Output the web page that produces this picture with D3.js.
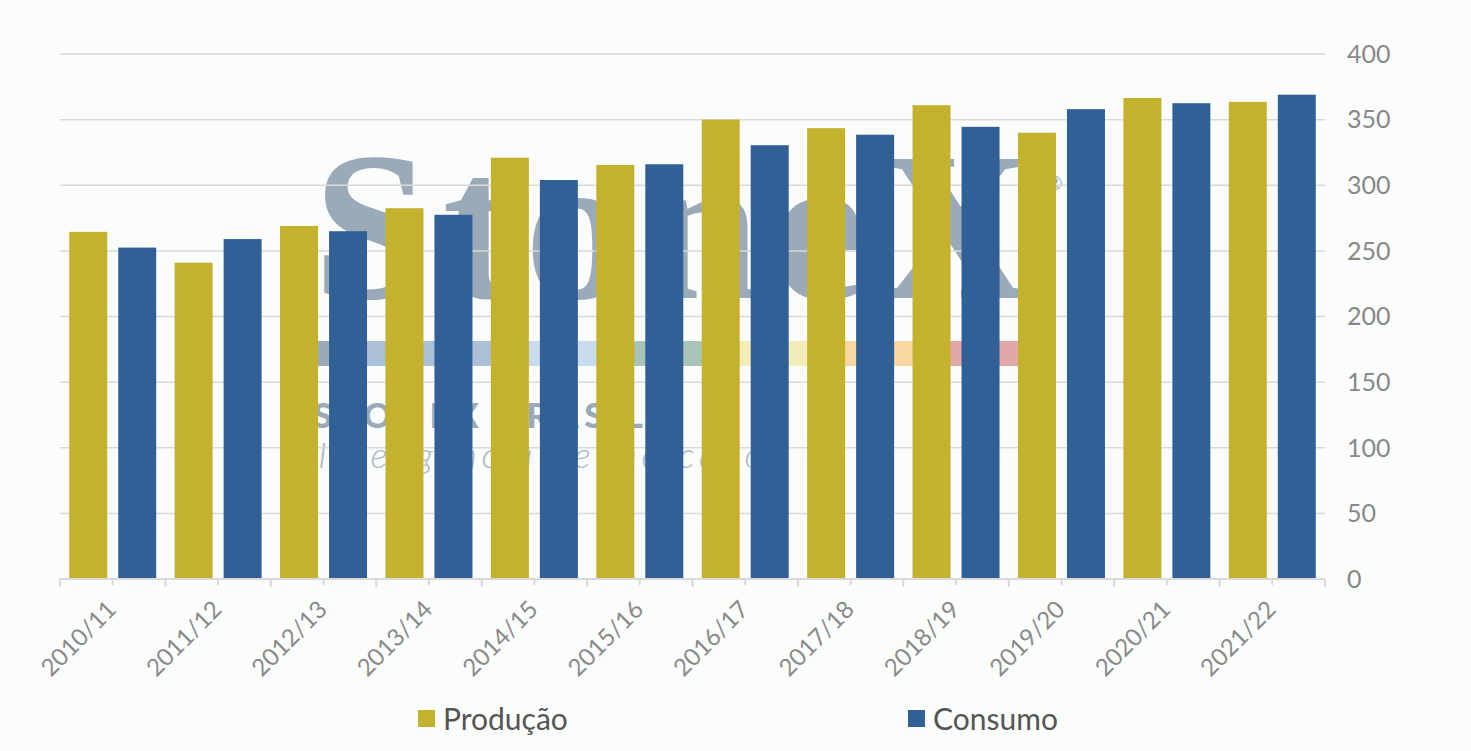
<!DOCTYPE html>
<html>
<head>
<meta charset="utf-8">
<script src="https://cdn.jsdelivr.net/npm/d3@7"></script>
<style>
    body { margin: 0; background: #fbfcfc; }
    svg { display: block; font-family: Lato, "Open Sans", sans-serif; }
</style>
</head>
<body>
<svg id="Chart"></svg>
<script>
let seasons = ["2010/11", "2011/12", "2012/13", "2013/14", "2014/15", "2015/16",
    "2016/17", "2017/18", "2018/19", "2019/20", "2020/21", "2021/22"];
let producao = [264.5, 241, 269, 282.5, 321, 315.5, 350, 343.5, 361, 340, 366.5, 363.5];
let consumo = [252.5, 259, 265, 277.5, 304, 316, 330.5, 338.5, 344.5, 358, 362.5, 369];
let yTicks = [0, 50, 100, 150, 200, 250, 300, 350, 400];
let seriesNames = ["Produção", "Consumo"];
let seriesColors = ["#c4b22e", "#316096"];
let stripeColors = ["#9aaab8", "#adbfd6", "#c8dced", "#a8c4b8", "#f4ecb8", "#f8d8a0", "#e0a8a8"];

function getConfig() {
    let width = 1471;
    let height = 751;
    let margin = { top: 54, bottom: 172, left: 60, right: 146 };
    let bodyWidth = width - margin.left - margin.right;
    let bodyHeight = height - margin.top - margin.bottom;
    let container = d3.select("#Chart")
        .attr("width", width)
        .attr("height", height);
    return { width, height, margin, bodyWidth, bodyHeight, container };
}

function getScales(config) {
    let { margin, bodyWidth, bodyHeight } = config;
    let xScale = d3.scaleBand()
        .domain(seasons)
        .range([margin.left, margin.left + bodyWidth]);
    let innerScale = d3.scaleBand()
        .domain(seriesNames)
        .range([0, xScale.bandwidth()])
        .paddingInner(0.2245)
        .paddingOuter(0.188);
    let yScale = d3.scaleLinear()
        .domain([0, 400])
        .range([margin.top + bodyHeight, margin.top]);
    return { xScale, innerScale, yScale };
}

// faded logo behind the plot
function drawWatermark(container) {
    let g = container.append("g");
    g.append("text")
        .attr("x", 313).attr("y", 298)
        .attr("textLength", 718)
        .attr("lengthAdjust", "spacing")
        .style("font-family", "'Liberation Serif', 'DejaVu Serif', serif")
        .style("font-weight", "bold")
        .style("font-size", "212px")
        .attr("fill", "#9aaab8")
        .text("StoneX");
    g.append("text")
        .attr("x", 1046).attr("y", 190)
        .style("font-size", "20px")
        .attr("fill", "#9aaab8")
        .text("®");

    // colour stripe: first small block, then six blocks
    let edges = [315, 355, 515, 615, 715, 815, 915, 1018];
    g.selectAll(".stripe")
        .data(stripeColors)
        .enter().append("rect")
        .attr("x", (d, i) => edges[i])
        .attr("y", 341)
        .attr("width", (d, i) => edges[i + 1] - edges[i])
        .attr("height", 25)
        .attr("fill", d => d);

    g.append("text")
        .attr("x", 313).attr("y", 428)
        .attr("textLength", 330)
        .attr("lengthAdjust", "spacing")
        .style("font-size", "35px")
        .style("font-weight", "900")
        .attr("fill", "#9aaab8")
        .text("STONEX BRASIL");
    g.append("text")
        .attr("x", 318).attr("y", 468)
        .attr("textLength", 445)
        .attr("lengthAdjust", "spacing")
        .style("font-size", "36px")
        .style("font-style", "italic")
        .style("font-weight", "300")
        .attr("fill", "#a9b9c8")
        .text("Inteligência de mercado");
}

function drawGrid(container, scales, config) {
    let { yScale } = scales;
    let { margin, bodyWidth } = config;
    container.append("g")
        .selectAll("line")
        .data(yTicks.slice(1))
        .enter().append("line")
        .attr("x1", margin.left)
        .attr("x2", margin.left + bodyWidth)
        .attr("y1", d => yScale(d))
        .attr("y2", d => yScale(d))
        .attr("stroke", "#d9d9d9")
        .attr("stroke-width", 1.5);
}

function drawBars(container, scales) {
    let { xScale, innerScale, yScale } = scales;
    let groups = container.append("g")
        .selectAll("g")
        .data(seasons)
        .enter().append("g")
        .attr("transform", d => `translate(${xScale(d)},0)`);

    groups.selectAll("rect")
        .data((d, i) => [
            { name: seriesNames[0], value: producao[i] },
            { name: seriesNames[1], value: consumo[i] }
        ])
        .enter().append("rect")
        .attr("x", d => innerScale(d.name))
        .attr("width", innerScale.bandwidth())
        .attr("y", d => yScale(d.value))
        .attr("height", d => yScale(0) - yScale(d.value))
        .attr("fill", (d, i) => seriesColors[i]);
}

function drawAxes(container, scales, config) {
    let { xScale, yScale } = scales;
    let { margin, bodyWidth } = config;
    let baseY = yScale(0);

    // x axis line, long ticks at band edges, short ones at band centres
    let axis = container.append("g");
    axis.append("line")
        .attr("x1", margin.left).attr("x2", margin.left + bodyWidth)
        .attr("y1", baseY).attr("y2", baseY)
        .attr("stroke", "#d9d9d9").attr("stroke-width", 2);
    let ticks = [];
    seasons.forEach(s => {
        ticks.push({ x: xScale(s), len: 8 });
        ticks.push({ x: xScale(s) + xScale.bandwidth() / 2, len: 6 });
    });
    ticks.push({ x: margin.left + bodyWidth, len: 8 });
    axis.selectAll(".tick")
        .data(ticks)
        .enter().append("line")
        .attr("x1", d => d.x).attr("x2", d => d.x)
        .attr("y1", baseY).attr("y2", d => baseY + d.len)
        .attr("stroke", "#d9d9d9").attr("stroke-width", 2);

    axis.selectAll(".xlabel")
        .data(seasons)
        .enter().append("text")
        .attr("text-anchor", "end")
        .attr("transform", d =>
            `translate(${xScale(d) + xScale.bandwidth() / 2 + 5},${baseY + 32}) rotate(-45)`)
        .style("font-size", "24px")
        .attr("fill", "#8a8a8a")
        .text(d => d);

    // y labels on the right
    container.append("g")
        .selectAll("text")
        .data(yTicks)
        .enter().append("text")
        .attr("x", 1347)
        .attr("y", d => yScale(d))
        .attr("dy", "0.35em")
        .style("font-size", "25px")
        .attr("fill", "#888")
        .text(d => d);
}

function drawLegend(container) {
    let xs = [418, 908];
    let entries = container.append("g")
        .selectAll("g")
        .data(seriesNames)
        .enter().append("g")
        .attr("transform", (d, i) => `translate(${xs[i]},710)`);
    entries.append("rect")
        .attr("width", 17).attr("height", 17)
        .attr("fill", (d, i) => seriesColors[i]);
    entries.append("text")
        .attr("x", 25).attr("y", 9)
        .attr("dy", "0.35em")
        .style("font-size", "30px")
        .attr("fill", "#555")
        .text(d => d);
}

function drawChart() {
    let config = getConfig();
    let scales = getScales(config);
    drawWatermark(config.container);
    drawGrid(config.container, scales, config);
    drawBars(config.container, scales);
    drawAxes(config.container, scales, config);
    drawLegend(config.container);
}

drawChart();
</script>
</body>
</html>
